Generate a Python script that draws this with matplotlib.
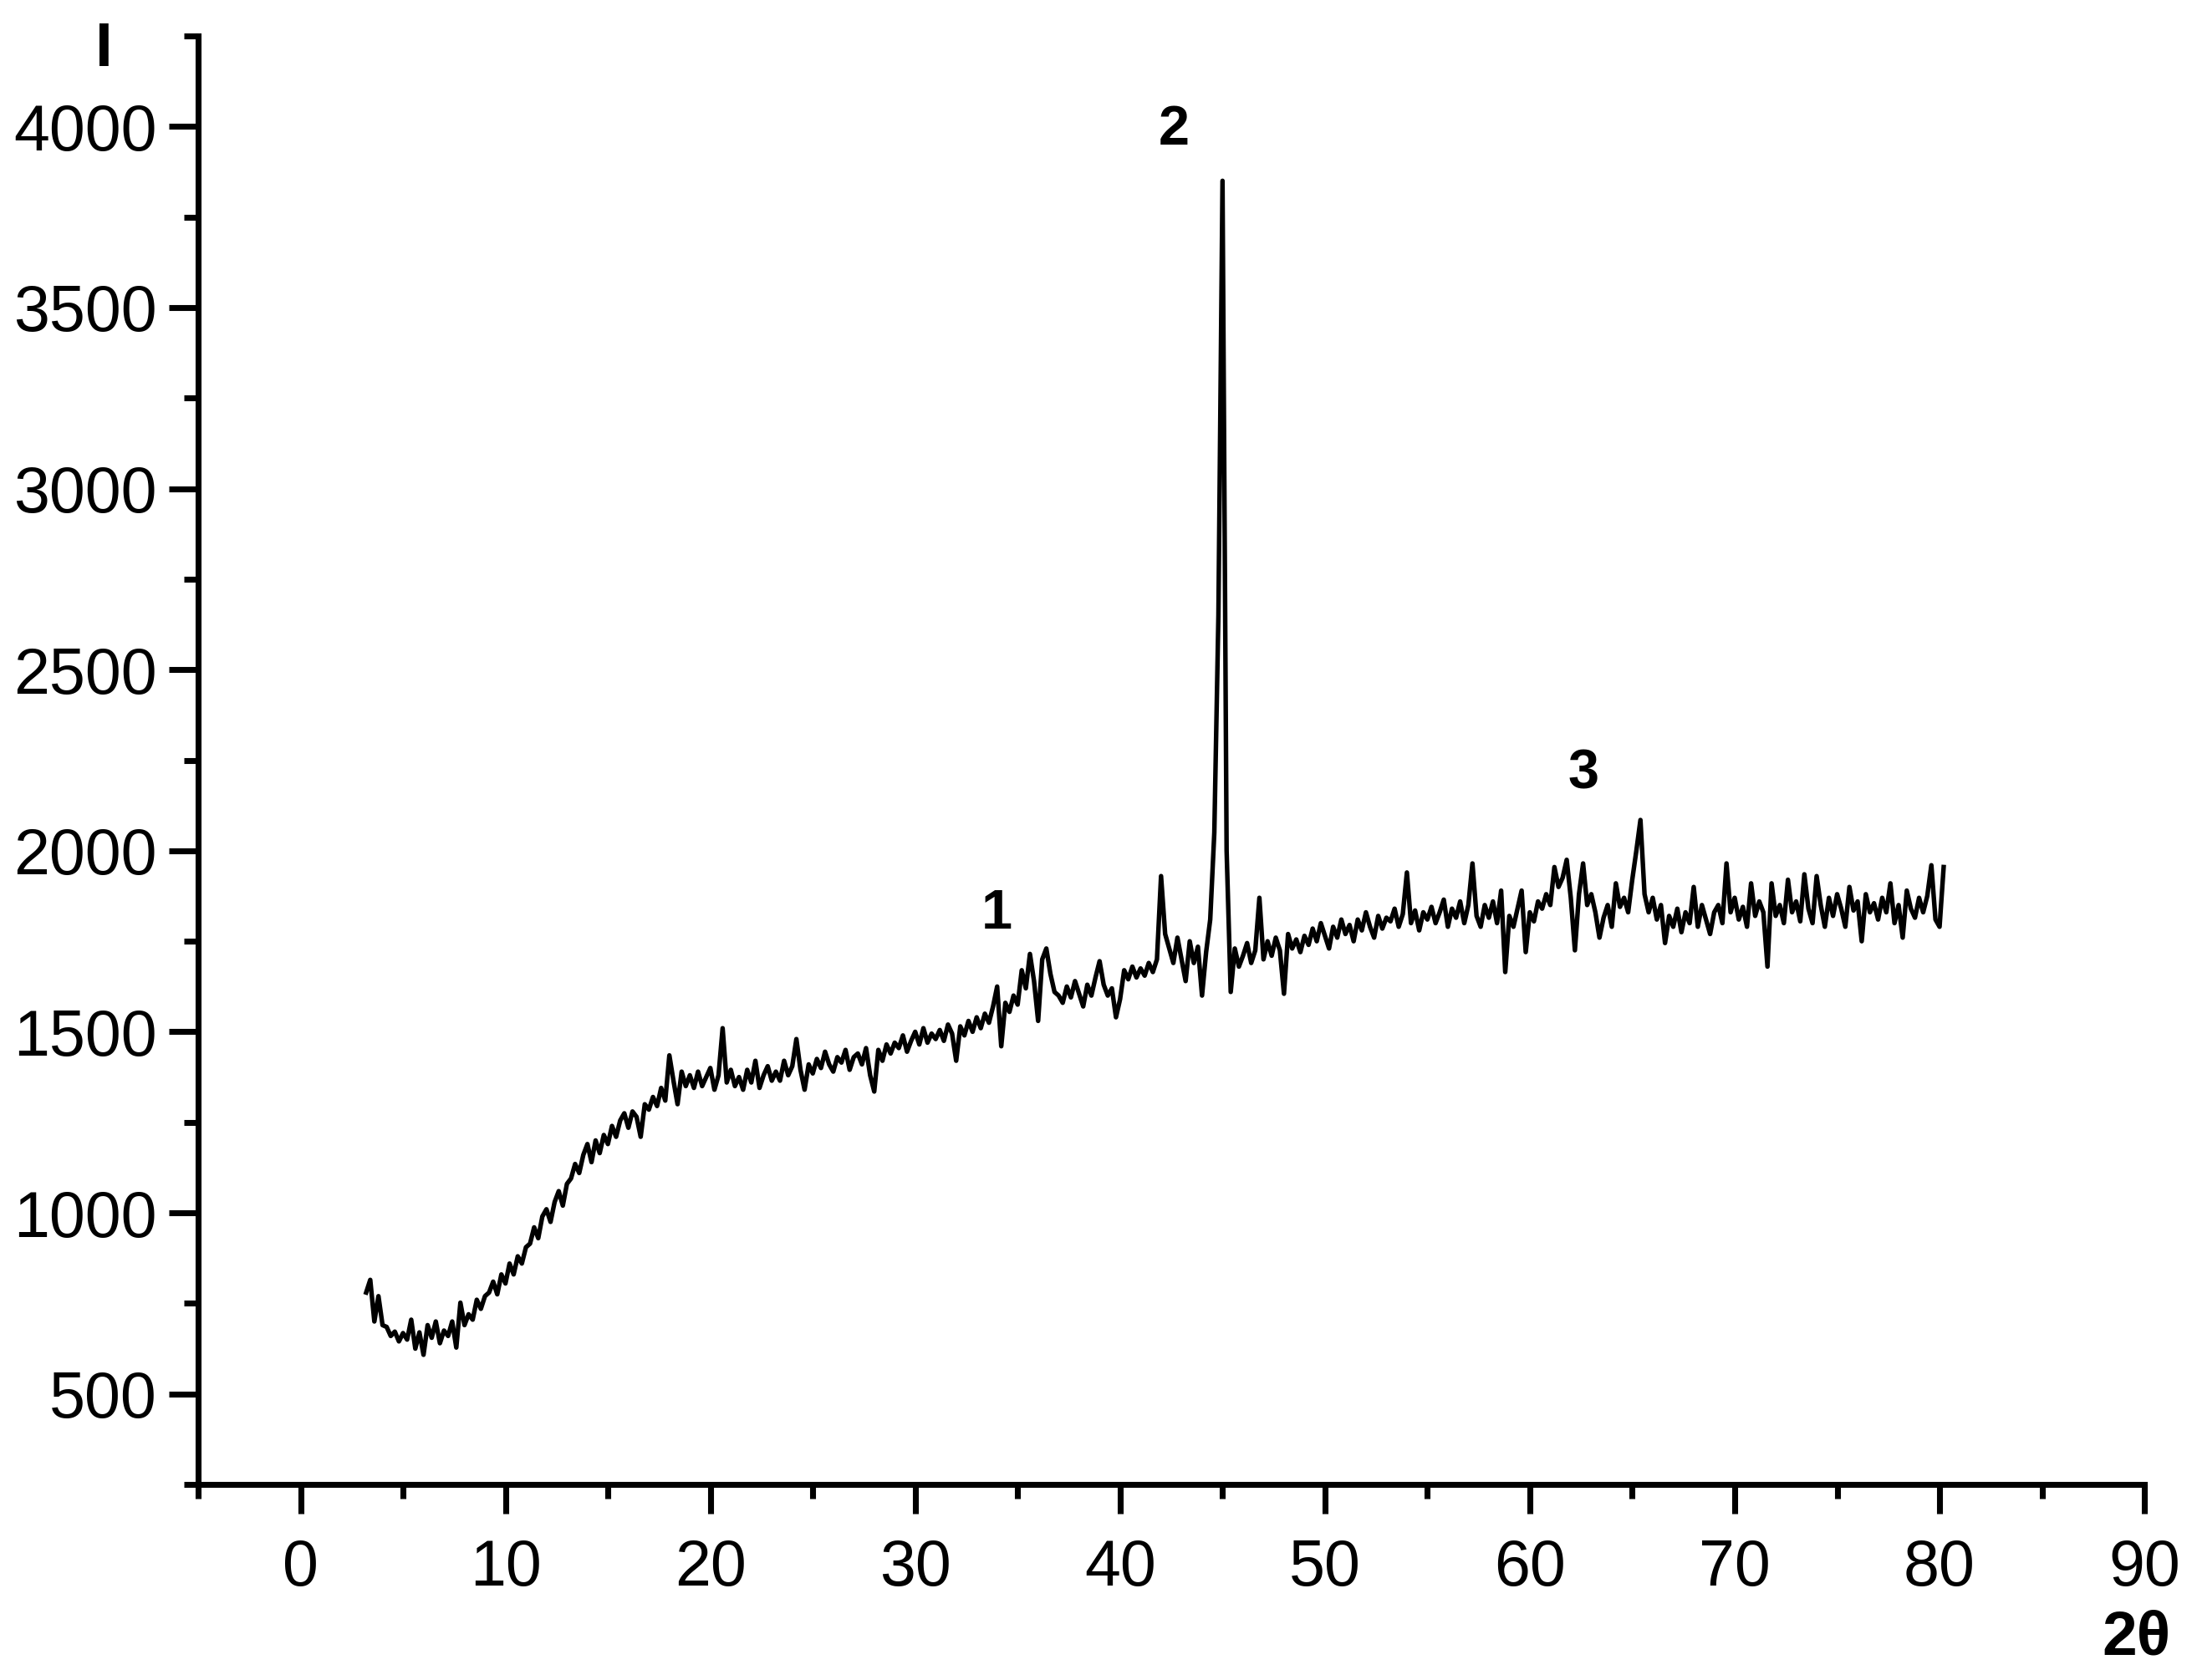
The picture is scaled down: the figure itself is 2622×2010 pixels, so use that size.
"""
XRD pattern (intensity I vs 2-theta) redrawn with matplotlib.
Saves out.png.
"""
import numpy as np
import matplotlib.pyplot as plt
from matplotlib.ticker import MultipleLocator

OUTPUT_FILENAME = "out.png"

# 2-theta sampling of the scan (degrees)
TWO_THETA_START = 3.2
TWO_THETA_STEP = 0.2

# Intensity, 10 points (2 degrees) per row
intensity = [
    780, 815, 700, 770, 690, 685, 660, 672, 645, 668,            # 3.2 - 5.0
    650, 705, 625, 670, 608, 690, 655, 700, 640, 675,            # 5.2 - 7.0
    660, 700, 628, 752, 690, 720, 705, 760, 735, 770,            # 7.2 - 9.0
    780, 810, 775, 830, 805, 860, 830, 880, 860, 905,            # 9.2 - 11.0
    915, 960, 930, 990, 1010, 975, 1030, 1060, 1020, 1080,       # 11.2 - 13.0
    1095, 1135, 1110, 1160, 1190, 1140, 1200, 1165, 1215, 1190,  # 13.2 - 15.0
    1240, 1210, 1255, 1275, 1235, 1280, 1265, 1210, 1300, 1285,  # 15.2 - 17.0
    1320, 1295, 1345, 1310, 1435, 1365, 1300, 1390, 1350, 1380,  # 17.2 - 19.0
    1345, 1390, 1350, 1375, 1400, 1340, 1380, 1510, 1360, 1395,  # 19.2 - 21.0
    1350, 1375, 1340, 1395, 1360, 1420, 1345, 1380, 1405, 1365,  # 21.2 - 23.0
    1390, 1365, 1420, 1380, 1405, 1480, 1395, 1340, 1410, 1385,  # 23.2 - 25.0
    1425, 1400, 1445, 1410, 1390, 1430, 1415, 1450, 1395, 1430,  # 25.2 - 27.0
    1440, 1410, 1455, 1380, 1335, 1450, 1420, 1465, 1440, 1470,  # 27.2 - 29.0
    1455, 1490, 1445, 1475, 1500, 1465, 1510, 1470, 1495, 1480,  # 29.2 - 31.0
    1505, 1475, 1520, 1495, 1420, 1515, 1490, 1530, 1500, 1540,  # 31.2 - 33.0
    1510, 1550, 1525, 1570, 1625, 1460, 1580, 1555, 1600, 1575,  # 33.2 - 35.0
    1670, 1620, 1715, 1640, 1530, 1700, 1730, 1660, 1610, 1600,  # 35.2 - 37.0
    1580, 1625, 1595, 1640, 1605, 1570, 1630, 1600, 1650, 1695,  # 37.2 - 39.0
    1630, 1600, 1620, 1540, 1590, 1670, 1645, 1680, 1650, 1675,  # 39.2 - 41.0
    1655, 1690, 1665, 1700, 1930, 1770, 1730, 1690, 1760, 1700,  # 41.2 - 43.0
    1640, 1750, 1690, 1735, 1600, 1720, 1810, 2050, 2650, 3850,  # 43.2 - 45.0
    2000, 1610, 1730, 1680, 1710, 1745, 1690, 1725, 1870, 1700,  # 45.2 - 47.0
    1750, 1710, 1760, 1725, 1605, 1770, 1730, 1755, 1720, 1765,  # 47.2 - 49.0
    1740, 1785, 1750, 1800, 1765, 1730, 1790, 1760, 1810, 1770,  # 49.2 - 51.0
    1795, 1750, 1810, 1780, 1830, 1790, 1760, 1820, 1785, 1815,  # 51.2 - 53.0
    1805, 1840, 1790, 1825, 1940, 1800, 1835, 1780, 1830, 1810,  # 53.2 - 55.0
    1845, 1800, 1830, 1865, 1790, 1840, 1815, 1860, 1800, 1850,  # 55.2 - 57.0
    1965, 1820, 1790, 1850, 1815, 1860, 1800, 1890, 1665, 1820,  # 57.2 - 59.0
    1790, 1840, 1890, 1720, 1830, 1805, 1860, 1840, 1880, 1850,  # 59.2 - 61.0
    1955, 1900, 1925, 1975, 1870, 1725, 1880, 1965, 1850, 1880,  # 61.2 - 63.0
    1830, 1760, 1815, 1850, 1790, 1910, 1845, 1870, 1830, 1920,  # 63.2 - 65.0
    2000, 2085, 1880, 1830, 1870, 1810, 1850, 1745, 1820, 1790,  # 65.2 - 67.0
    1840, 1775, 1830, 1800, 1900, 1790, 1850, 1810, 1770, 1830,  # 67.2 - 69.0
    1850, 1800, 1965, 1830, 1870, 1810, 1845, 1790, 1910, 1820,  # 69.2 - 71.0
    1860, 1830, 1680, 1910, 1820, 1850, 1800, 1920, 1830, 1860,  # 71.2 - 73.0
    1805, 1935, 1840, 1800, 1930, 1850, 1790, 1870, 1820, 1880,  # 73.2 - 75.0
    1840, 1790, 1900, 1835, 1860, 1750, 1880, 1830, 1855, 1810,  # 75.2 - 77.0
    1870, 1830, 1910, 1800, 1850, 1760, 1890, 1840, 1815, 1870,  # 77.2 - 79.0
    1830, 1875, 1960, 1810, 1790, 1955,                          # 79.2 - 80.2
]

# Peak labels: (text, 2-theta, intensity)
peak_labels = ["1", "2", "3"]
peak_label_x = [34.0, 42.65, 62.6]
peak_label_y = [1824, 3989, 2210]

x_ticks = [0, 10, 20, 30, 40, 50, 60, 70, 80, 90]
y_ticks = [500, 1000, 1500, 2000, 2500, 3000, 3500, 4000]

plt.rcParams['font.family'] = ['Liberation Sans', 'DejaVu Sans']

two_theta = TWO_THETA_START + TWO_THETA_STEP * np.arange(len(intensity))

fig = plt.figure(figsize=(2622 / 300, 2010 / 300), dpi=300)
ax = fig.add_axes([0.0904, 0.1164, 0.8879, 0.8622])

ax.plot(two_theta, intensity, color='black', lw=1.3)

ax.set_xlim(-5, 90)
ax.set_ylim(250, 4250)
ax.set_xticks(x_ticks)
ax.set_yticks(y_ticks)
ax.xaxis.set_minor_locator(MultipleLocator(5))
ax.yaxis.set_minor_locator(MultipleLocator(250))

for side in ['top', 'right']:
    ax.spines[side].set_visible(False)
for side in ['left', 'bottom']:
    ax.spines[side].set_linewidth(1.7)

ax.tick_params(which='major', direction='out', length=8.4, width=1.7,
               labelsize=18.5)
ax.tick_params(which='minor', direction='out', length=4.0, width=1.7)
ax.tick_params(axis='x', which='major', pad=7)
ax.tick_params(axis='y', which='major', pad=3.5)

# Axis names placed like in the original figure
ax.text(-9.6, 4211, "I", fontsize=18, fontweight='bold',
        ha='center', va='center', clip_on=False)
ax.text(89.6, -175, "2θ", fontsize=18, fontweight='bold',
        ha='center', va='center', clip_on=False)

for label, px, py in zip(peak_labels, peak_label_x, peak_label_y):
    ax.text(px, py, label, fontsize=16, fontweight='bold',
            ha='center', va='center')

fig.savefig(OUTPUT_FILENAME, dpi=300)
